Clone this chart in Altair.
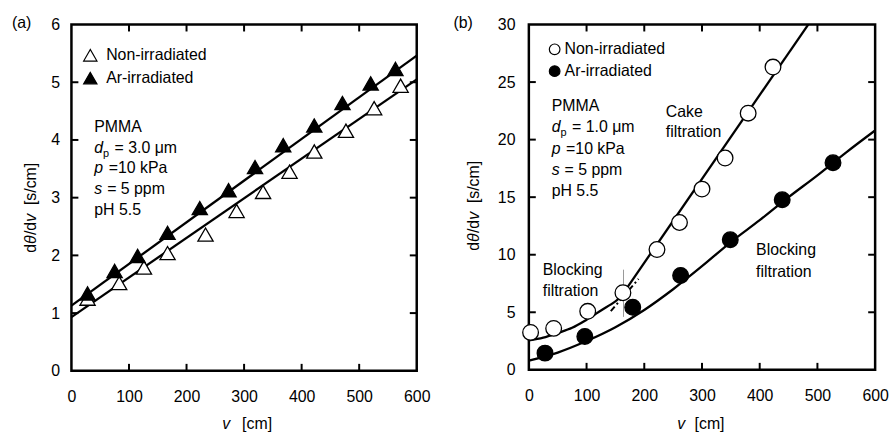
import altair as alt
import pandas as pd

FONT = "Liberation Sans"

# ---------------- Panel (a) data ----------------
a_names = ["Non-irradiated", "Ar-irradiated"]
a_non_v = [28, 83, 126, 167, 233, 287, 333, 379, 422, 477, 526, 572]
a_non_y = [1.25, 1.52, 1.79, 2.04, 2.36, 2.77, 3.10, 3.45, 3.80, 4.16, 4.55, 4.94]
a_ar_v = [28, 75, 115, 167, 223, 273, 319, 368, 422, 471, 520, 563]
a_ar_y = [1.34, 1.73, 1.99, 2.39, 2.82, 3.13, 3.53, 3.91, 4.25, 4.64, 4.98, 5.23]
a_fit_non_v = [0, 600]
a_fit_non_y = [0.93, 5.05]
a_fit_ar_v = [0, 600]
a_fit_ar_y = [1.13, 5.46]
a_xlabels = [0, 100, 200, 300, 400, 500, 600]
a_ylabels = [0, 1, 2, 3, 4, 5, 6]
a_xticks = [100, 200, 300, 400, 500]
a_yticks = [1, 2, 3, 4, 5]

# ---------------- Panel (b) data ----------------
b_names = ["Non-irradiated", "Ar-irradiated"]
b_non_v = [3, 43, 102, 163, 222, 261, 300, 340, 380, 423]
b_non_y = [3.25, 3.6, 5.08, 6.7, 10.45, 12.8, 15.7, 18.4, 22.3, 26.3]
b_ar_v = [28, 97, 180, 263, 349, 439, 527]
b_ar_y = [1.45, 2.9, 5.43, 8.2, 11.3, 14.77, 17.99]
b_block_non_v = [0, 25, 50, 75, 100, 125, 150, 170]
b_block_non_y = [2.55, 2.8, 3.2, 3.65, 4.35, 5.15, 5.95, 6.7]
b_cake_v = [163, 484]
b_cake_y = [6.6, 30]
b_dash_v = [142, 190]
b_dash_y = [5.1, 7.9]
b_mark_v = [164]
b_mark_y = [4.6]
b_mark_y2 = [8.7]
b_block_ar_v = [0, 50, 100, 150, 200, 250, 300, 350, 400, 450, 500, 550, 600]
b_block_ar_y = [0.8, 1.5, 2.5, 3.7, 5.2, 7.0, 9.0, 11.1, 13.0, 15.0, 16.9, 18.9, 20.8]
b_xlabels = [0, 100, 200, 300, 400, 500, 600]
b_ylabels = [0, 5, 10, 15, 20, 25, 30]
b_xticks = [100, 200, 300, 400, 500]
b_yticks = [5, 10, 15, 20, 25]


def txt(s, x, y, size=16, italic=False, angle=0, align="left", color="black"):
    props = dict(text=s, font=FONT, fontSize=size, align=align,
                 baseline="alphabetic", color=color)
    if italic:
        props["fontStyle"] = "italic"
    if angle:
        props["angle"] = angle
    return alt.Chart(pd.DataFrame({"k": [0]})).mark_text(**props).encode(
        x=alt.value(x), y=alt.value(y))


def panel(W, H, xdom, ydom, xlabels, ylabels, xticks, yticks, ylabpad,
          points, shape, psize, legend_cfg, lines, extras):
    xs = alt.Scale(domain=xdom, nice=False, zero=False)
    ys = alt.Scale(domain=ydom, nice=False, zero=False)
    ax_x = alt.Axis(values=xlabels, ticks=False, domain=False, grid=False, title=None,
                    labelFont=FONT, labelFontSize=16, labelColor="black",
                    labelPadding=18, labelFlush=False)
    ax_y = alt.Axis(values=ylabels, ticks=False, domain=False, grid=False, title=None,
                    labelFont=FONT, labelFontSize=16, labelColor="black",
                    labelPadding=ylabpad)
    X = alt.X("x:Q", scale=xs, axis=ax_x)
    Y = alt.Y("y:Q", scale=ys, axis=ax_y)

    layers = []
    # inward ticks on all four sides
    dx = pd.DataFrame({"x": xticks})
    dy = pd.DataFrame({"y": yticks})
    layers.append(alt.Chart(dx).mark_rule(color="black", strokeWidth=2).encode(
        x=X, y=alt.value(H), y2=alt.value(H - 7)))
    layers.append(alt.Chart(dx).mark_rule(color="black", strokeWidth=2).encode(
        x=X, y=alt.value(0), y2=alt.value(7)))
    layers.append(alt.Chart(dy).mark_rule(color="black", strokeWidth=2).encode(
        y=Y, x=alt.value(0), x2=alt.value(7)))
    layers.append(alt.Chart(dy).mark_rule(color="black", strokeWidth=2).encode(
        y=Y, x=alt.value(W - 7), x2=alt.value(W)))

    for (lv, ly, dash) in lines:
        props = dict(color="black", strokeWidth=2.3, interpolate="monotone")
        if dash:
            props["strokeDash"] = dash
            props["strokeWidth"] = 2
        layers.append(alt.Chart(pd.DataFrame({"x": lv, "y": ly})).mark_line(**props)
                      .encode(x=X, y=Y))

    layers.extend(extras(X, Y))

    names, (v1, y1), (v2, y2) = points
    df = pd.concat([pd.DataFrame({"x": v1, "y": y1, "s": names[0]}),
                    pd.DataFrame({"x": v2, "y": y2, "s": names[1]})])
    layers.append(alt.Chart(df).mark_point(shape=shape, filled=True, size=psize,
                                           stroke="black", strokeWidth=1.3, opacity=1)
                  .encode(x=X, y=Y,
                          fill=alt.Fill("s:N", sort=names,
                                        scale=alt.Scale(domain=names, range=["white", "black"]),
                                        legend=alt.Legend(**legend_cfg))))
    return layers


def leg(x, y, stype, ssize, loff, rowpad):
    return dict(title=None, orient="none", legendX=x, legendY=y, symbolType=stype,
                symbolSize=ssize, symbolStrokeColor="black", symbolStrokeWidth=1.2,
                labelFont=FONT, labelFontSize=16, labelColor="black", labelOffset=loff,
                rowPadding=rowpad, padding=0, symbolOffset=0)


# ---------------- Panel (a) ----------------
WA, HA = 348, 349


def extras_a(X, Y):
    return []


la = panel(WA, HA, [0, 600], [0, 6], a_xlabels, a_ylabels, a_xticks, a_yticks, 12,
           (a_names, (a_non_v, a_non_y), (a_ar_v, a_ar_y)), "triangle-up", 235,
           leg(11, 23, "triangle-up", 180, 8, 5),
           [(a_fit_non_v, a_fit_non_y, None), (a_fit_ar_v, a_fit_ar_y, None)],
           extras_a)

b0 = 108.5
st = 20.8
la += [
    txt("(a)", -60, 4),
    txt("PMMA", 23, b0),
    txt("d", 23, b0 + st, italic=True), txt("p", 31.9, b0 + st + 4, size=11),
    txt("= 3.0 μm", 43.5, b0 + st),
    txt("p", 23, b0 + 2 * st, italic=True), txt("=10 kPa", 37.5, b0 + 2 * st),
    txt("s", 23, b0 + 3 * st, italic=True), txt("= 5 ppm", 36, b0 + 3 * st),
    txt("pH 5.5", 23, b0 + 4 * st),
    # x title
    txt("v", 152, 408, italic=True), txt("[cm]", 172, 408),
]
ya_x, ya_y = -36, 230
la += [
    txt("d", ya_x, ya_y, angle=270),
    txt("θ", ya_x, ya_y - 8.9, angle=270, italic=True),
    txt("/d", ya_x, ya_y - 17.8, angle=270),
    txt("v", ya_x, ya_y - 31.2, angle=270, italic=True),
    txt("[s/cm]", ya_x, ya_y - 48.0, angle=270),
]
chart_a = alt.layer(*la).properties(width=WA, height=HA)

# ---------------- Panel (b) ----------------
WB, HB = 349, 348


def extras_b(X, Y):
    d = pd.DataFrame({"x": b_mark_v, "y": b_mark_y, "y2": b_mark_y2})
    return [alt.Chart(d).mark_rule(color="#999999", strokeWidth=1).encode(
        x=X, y=Y, y2=alt.Y2("y2:Q"))]


lb = panel(WB, HB, [0, 600], [0, 30], b_xlabels, b_ylabels, b_xticks, b_yticks, 14,
           (b_names, (b_non_v, b_non_y), (b_ar_v, b_ar_y)), "circle", 250,
           leg(18, 17, "circle", 115, 2, 6),
           [(b_block_non_v, b_block_non_y, None), (b_cake_v, b_cake_y, None),
            (b_block_ar_v, b_block_ar_y, None), (b_dash_v, b_dash_y, [6, 3, 2, 3])],
           extras_b)

c0 = 87
sb = 21.5
lb += [
    txt("(b)", -76, 4),
    txt("PMMA", 23, c0),
    txt("d", 23, c0 + sb, italic=True), txt("p", 31.9, c0 + sb + 4, size=11),
    txt("= 1.0 μm", 43.5, c0 + sb),
    txt("p", 23, c0 + 2 * sb, italic=True), txt("=10 kPa", 37.5, c0 + 2 * sb),
    txt("s", 23, c0 + 3 * sb, italic=True), txt("= 5 ppm", 36, c0 + 3 * sb),
    txt("pH 5.5", 23, c0 + 4 * sb),
    txt("Cake", 138, 93.5), txt("filtration", 138, 113.5),
    txt("Blocking", 14, 252.5), txt("filtration", 14, 273.5),
    txt("Blocking", 229, 232.5), txt("filtration", 229, 254),
    txt("v", 149.5, 408, italic=True), txt("[cm]", 167, 408),
]
yb_x, yb_y = -50, 228
lb += [
    txt("d", yb_x, yb_y, angle=270),
    txt("θ", yb_x, yb_y - 8.9, angle=270, italic=True),
    txt("/d", yb_x, yb_y - 17.8, angle=270),
    txt("v", yb_x, yb_y - 31.2, angle=270, italic=True),
    txt("[s/cm]", yb_x, yb_y - 48.0, angle=270),
]
chart_b = alt.layer(*lb).properties(width=WB, height=HB)

chart = (
    alt.hconcat(chart_a, chart_b, spacing=20)
    .resolve_scale(x="independent", y="independent", fill="independent")
    .resolve_legend(fill="independent")
    .properties(padding={"left": 10, "top": 12, "right": 2, "bottom": 2},
                background="white")
    .configure_view(stroke="black", strokeWidth=2.5)
)

chart.save("out.html", embed_options={"renderer": "svg", "actions": False})
